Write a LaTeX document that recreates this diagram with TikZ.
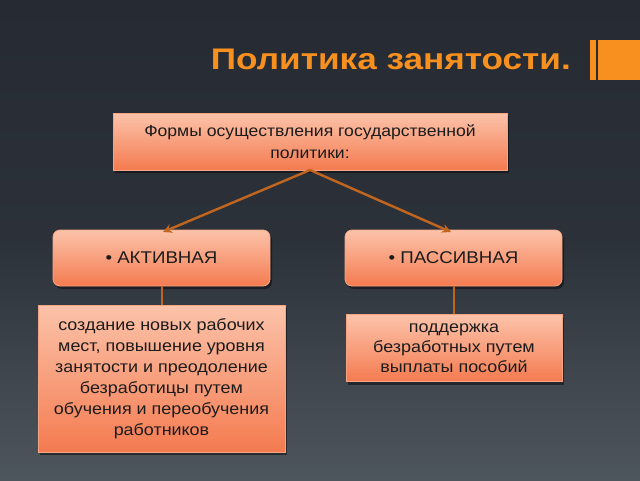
\documentclass[tikz,border=0pt]{standalone}
\usepackage{fontspec}
\setmainfont[FakeStretch=1.1]{Liberation Sans}
\newfontfamily\titlefont[FakeStretch=1.18]{Liberation Sans}
\usetikzlibrary{arrows.meta,shadows}
\definecolor{bgtop}{HTML}{262B33}
\definecolor{bgbot}{HTML}{4E565D}
\definecolor{titleor}{HTML}{F7901E}
\definecolor{boxtop}{HTML}{FCC3AA}
\definecolor{boxbot}{HTML}{F47B50}
\definecolor{boxline}{HTML}{F6A584}
\definecolor{conn}{HTML}{C2651F}
\definecolor{txt}{HTML}{1C1C1C}
\tikzset{
  box/.style={draw=boxline, line width=0.8pt, top color=boxtop, bottom color=boxbot,
    text=txt, align=center, inner sep=2pt,
    drop shadow={shadow xshift=2pt, shadow yshift=-3pt, opacity=0.45, fill=black}},
  rbox/.style={box, rounded corners=7pt},
  arr/.style={draw=conn, line width=2.4pt, -{Stealth[length=9pt,width=9pt]}},
  link/.style={draw=conn, line width=2pt},
}
\begin{document}
\begin{tikzpicture}[x=1pt,y=-1pt]
\shade[top color=bgtop, bottom color=bgbot, middle color=bgtop!85!bgbot, shading angle=0] (0,0) rectangle (640,480);
\useasboundingbox (0,0) rectangle (640,480);
% title
\node[anchor=base east, text=titleor, font=\titlefont\bfseries\fontsize{29.8}{34}\selectfont, inner sep=0] (title) at (571,69) {Политика занятости.};
\fill[titleor] (590,40) rectangle (596,80);
\fill[titleor] (598,40) rectangle (640,80);
% boxes
\node[box, minimum width=394pt, minimum height=57pt, font=\fontsize{16}{22}\selectfont] (top) at (310,141.5)
  {Формы осуществления государственной\\политики:};
\node[rbox, minimum width=217pt, minimum height=56pt, font=\fontsize{17}{20}\selectfont] (act) at (161.5,258) {• АКТИВНАЯ};
\node[rbox, minimum width=217pt, minimum height=56pt, font=\fontsize{17}{20}\selectfont] (pas) at (453.5,258) {• ПАССИВНАЯ};
\node[box, minimum width=247pt, minimum height=147pt, font=\fontsize{16.3}{21}\selectfont] (actd) at (161.5,378.5)
  {создание новых рабочих\\мест, повышение уровня\\занятости и преодоление\\безработицы путем\\обучения и переобучения\\работников};
\node[box, minimum width=216pt, minimum height=67pt, font=\fontsize{16.3}{20}\selectfont] (pasd) at (454,348)
  {поддержка\\безработных путем\\выплаты пособий};
% connectors
\coordinate (tb) at (310,170);
\draw[arr] (tb) -- (163,232);
\draw[arr] (tb) -- (451,232);
\draw[link] (act.south) -- (actd.north);
\draw[link] (pas.south -| pasd.north) -- (pasd.north);
\end{tikzpicture}
\end{document}
